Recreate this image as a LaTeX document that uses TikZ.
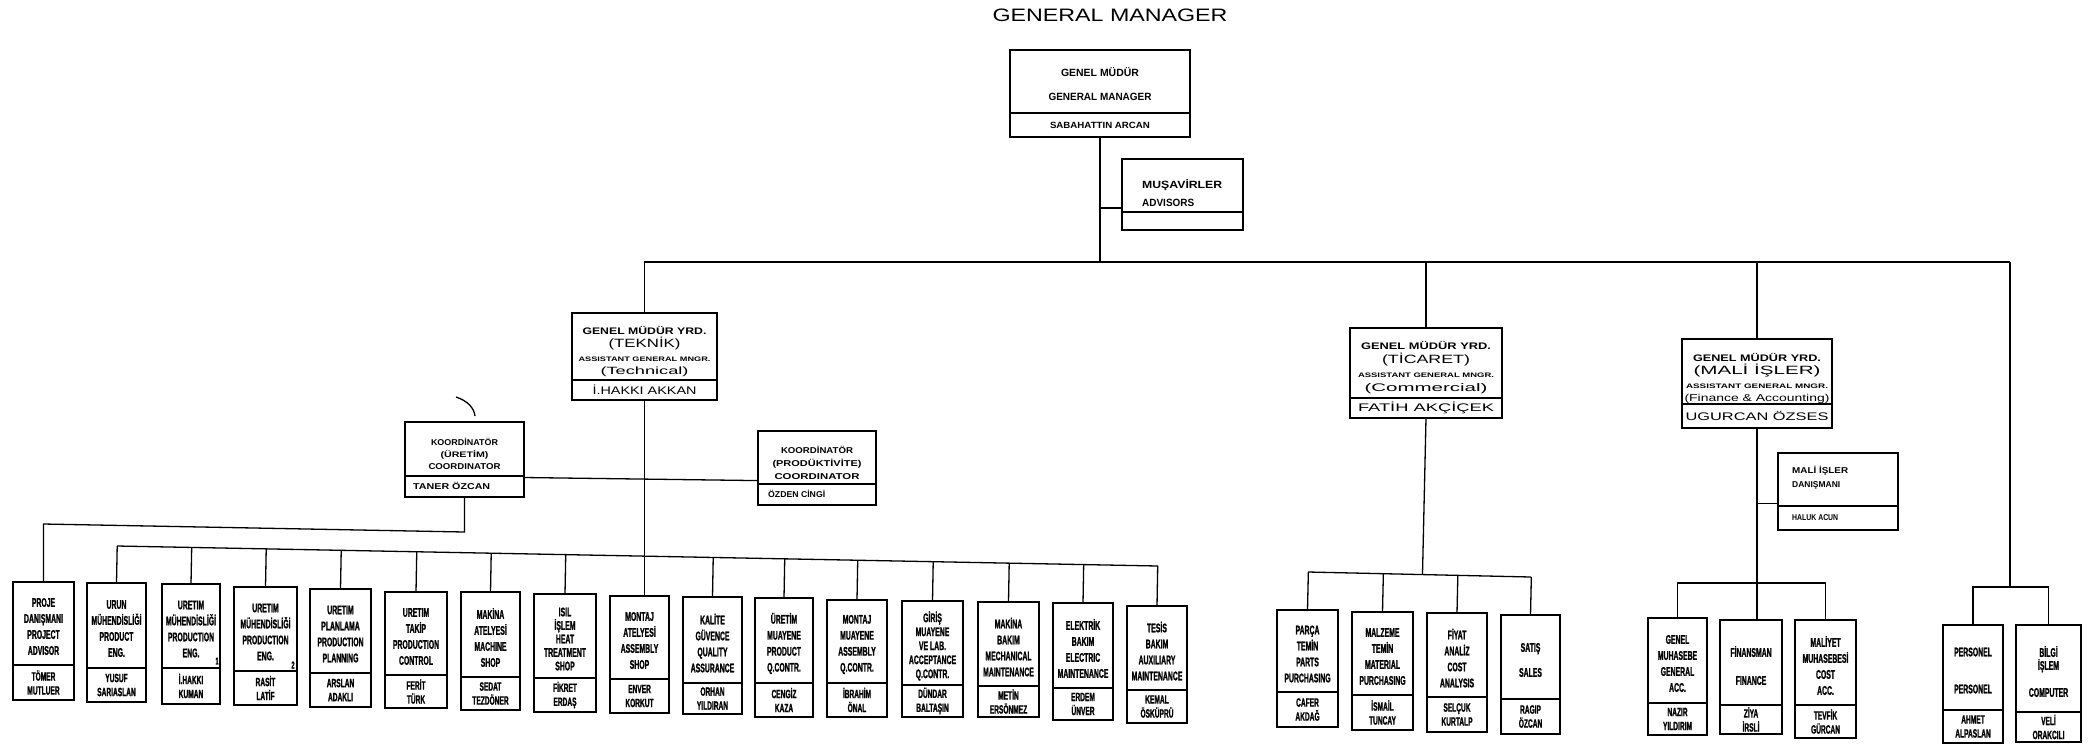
\documentclass[tikz,border=0pt]{standalone}
\usepackage{graphicx}
\usepackage{fontspec}
\setmainfont{Liberation Sans}
\newfontfamily\fcond[FakeStretch=0.55,FakeBold=1.2]{Liberation Sans Bold}
\usetikzlibrary{calc}
\newcommand\fitb[3][9]{{\rmfamily\fontsize{#1}{#1}\selectfont\bfseries\resizebox{#2pt}{\height}{#3}}}
\newcommand\fitr[3][10]{{\rmfamily\fontsize{#1}{#1}\selectfont\mdseries\resizebox{#2pt}{\height}{#3}}}
% #1 title options, #2 name, #3 x1, #4 top, #5 x2, #6 divider, #7 bottom, #8 title, #9 person
\newcommand\orgbx[9][]{%
  \pgfmathsetmacro\bxw{#5-#3}%
  \pgfmathsetmacro\bxh{#7-#4}%
  \node[frame, minimum width=\bxw pt, minimum height=\bxh pt, anchor=north west] (#2) at (#3,#4) {};
  \draw[divl] (#3,#6) -- (#5,#6);
  \node[ttl,#1] (#2t) at ({(#3+#5)/2},{(#4+#6)/2}) {#8};
  \node[psn] (#2n) at ({(#3+#5)/2},{(#6+#7)/2}) {#9};
}
\begin{document}
\begin{tikzpicture}[x=1pt,y=-1pt,
  frame/.style={draw, line width=1.7pt, inner sep=0pt, outer sep=0pt},
  divl/.style={line width=1.4pt},
  conn/.style={line width=1.3pt},
  ttl/.style={align=center, inner sep=0pt, yshift=-3pt, font=\fcond\fontsize{12.5}{16}\selectfont},
  psn/.style={align=center, inner sep=0pt, font=\fcond\fontsize{12}{14}\selectfont},
  plain/.style={inner sep=0pt}]
\useasboundingbox (0,0) rectangle (2095,748);
\fill[white] (0,0) rectangle (2095,748);

\node[plain] (title) at (1110,15) {\fitr[18]{235}{GENERAL MANAGER}};

% top level
\orgbx[font=\fontsize{10}{24}\selectfont, yshift=0pt]{gm}{1010}{50}{1190}{113}{137}{\fitb[10.5]{78}{GENEL MÜDÜR}\\\fitb[10.5]{103}{GENERAL MANAGER}}{\fitb[9]{100}{SABAHATTIN ARCAN}}
\orgbx{mus}{1122}{159}{1243}{212}{230}{}{}
\node[plain, align=left, anchor=west, font=\fontsize{10}{18}\selectfont] (must) at ($(mus.north west)+(20,34)$) {\fitb[10.5]{80}{MUŞAVİRLER}\\\fitb[10.5]{52}{ADVISORS}};

% assistant general managers
\orgbx[font=\fontsize{10}{13.3}\selectfont, yshift=-2pt]{tek}{572}{313}{717}{380}{400}{\fitb[9.5]{124}{GENEL MÜDÜR YRD.}\\\fitr[12]{72}{(TEKNİK)}\\\fitb[6.5]{132}{ASSISTANT GENERAL MNGR.}\\\fitr[10.5]{88}{(Technical)}}{\fitr[11]{104}{İ.HAKKI AKKAN}}
\orgbx[font=\fontsize{10}{14}\selectfont, yshift=-2pt]{tic}{1350}{328}{1502}{398}{418}{\fitb[9.5]{130}{GENEL MÜDÜR YRD.}\\\fitr[12]{88}{(TİCARET)}\\\fitb[6.5]{136}{ASSISTANT GENERAL MNGR.}\\\fitr[11]{123}{(Commercial)}}{\fitr[11]{136}{FATİH AKÇİÇEK}}
\orgbx[font=\fontsize{10}{13.5}\selectfont, yshift=-4pt]{mal}{1682}{339}{1832}{404}{428}{\fitb[9.5]{128}{GENEL MÜDÜR YRD.}\\\fitr[12]{127}{(MALİ İŞLER)}\\\fitb[6.5]{142}{ASSISTANT GENERAL MNGR.}\\\fitr[10]{145}{(Finance \& Accounting)}}{\fitr[11]{143}{UGURCAN ÖZSES}}

% coordinators
\orgbx[font=\fontsize{9}{12}\selectfont, yshift=-2pt]{co1}{405}{422}{524}{476}{497}{\fitb[8.5]{67}{KOORDİNATÖR}\\\fitb[8]{48}{(ÜRETİM)}\\\fitb[8.5]{72}{COORDINATOR}}{}
\node[psn, anchor=west] (co1p) at ($(co1.south west)+(8,-11)$) {\fitb[8.5]{77}{TANER ÖZCAN}};
\orgbx[font=\fontsize{9}{13}\selectfont, yshift=-2pt]{co2}{758}{431}{876}{484}{505}{\fitb[8.5]{72}{KOORDİNATÖR}\\\fitb[8.5]{89}{(PRODÜKTİVİTE)}\\\fitb[8.5]{85}{COORDINATOR}}{}
\node[psn, anchor=west] (co2p) at ($(co2.south west)+(10,-11)$) {\fitb[8.5]{57}{ÖZDEN CİNGİ}};

% finance advisor
\orgbx{mdn}{1778}{453}{1898}{506}{530}{}{}
\node[plain, align=left, anchor=west, font=\fontsize{9}{14}\selectfont] (mdnt) at ($(mdn.north west)+(14,25)$) {\fitb[8.5]{56}{MALİ İŞLER}\\\fitb[8.5]{48}{DANIŞMANI}};
\node[psn, anchor=west] (mdnp) at ($(mdn.south west)+(14,-12)$) {\fitb[8.5]{46}{HALUK ACUN}};

% technical departments
\orgbx{b1}{13}{582}{74}{665}{700}{PROJE\\DANIŞMANI\\PROJECT\\ADVISOR}{TÖMER\\MUTLUER}
\orgbx{b2}{87}{583}{146}{668}{702}{URUN\\MÜHENDİSLİĞİ\\PRODUCT\\ENG.}{YUSUF\\SARIASLAN}
\orgbx{b3}{162}{584}{220}{668}{704}{URETIM\\MÜHENDİSLİĞİ\\PRODUCTION\\ENG.}{İ.HAKKI\\KUMAN}
\orgbx{b4}{234}{587}{297}{671}{705}{URETIM\\MÜHENDİSLİĞİ\\PRODUCTION\\ENG.}{RASİT\\LATİF}
\orgbx{b5}{310}{589}{371}{673}{707}{URETIM\\PLANLAMA\\PRODUCTION\\PLANNING}{ARSLAN\\ADAKLI}
\orgbx{b6}{385}{592}{447}{675}{708}{URETIM\\TAKİP\\PRODUCTION\\CONTROL}{FERİT\\TÜRK}
\orgbx{b7}{461}{592}{520}{677}{710}{MAKİNA\\ATELYESİ\\MACHINE\\SHOP}{SEDAT\\TEZDÖNER}
\orgbx[font=\fcond\fontsize{12.5}{13.5}\selectfont]{b8}{534}{594}{596}{678}{712}{ISIL\\İŞLEM\\HEAT\\TREATMENT\\SHOP}{FİKRET\\ERDAŞ}
\orgbx{b9}{610}{596}{669}{679}{713}{MONTAJ\\ATELYESİ\\ASSEMBLY\\SHOP}{ENVER\\KORKUT}
\orgbx{b10}{683}{597}{742}{683}{714}{KALİTE\\GÜVENCE\\QUALITY\\ASSURANCE}{ORHAN\\YILDIRAN}
\orgbx{b11}{755}{598}{813}{683}{717}{ÜRETİM\\MUAYENE\\PRODUCT\\Q.CONTR.}{CENGİZ\\KAZA}
\orgbx{b12}{827}{600}{887}{683}{717}{MONTAJ\\MUAYENE\\ASSEMBLY\\Q.CONTR.}{İBRAHİM\\ÖNAL}
\orgbx[font=\fcond\fontsize{12.5}{14}\selectfont]{b13}{902}{601}{963}{685}{717}{GİRİŞ\\MUAYENE\\VE LAB.\\ACCEPTANCE\\Q.CONTR.}{DÜNDAR\\BALTAŞIN}
\orgbx{b14}{978}{602}{1039}{686}{717}{MAKİNA\\BAKIM\\MECHANICAL\\MAINTENANCE}{METİN\\ERSÖNMEZ}
\orgbx{b15}{1053}{603}{1113}{688}{720}{ELEKTRİK\\BAKIM\\ELECTRIC\\MAINTENANCE}{ERDEM\\ÜNVER}
\orgbx{b16}{1127}{606}{1187}{690}{723}{TESİS\\BAKIM\\AUXILIARY\\MAINTENANCE}{KEMAL\\ÖSKÜPRÜ}
\node[plain, font=\fcond\fontsize{10}{10}\selectfont] (m1) at (217,661) {1};
\node[plain, font=\fcond\fontsize{10}{10}\selectfont] (m2) at (293,665) {2};

% commercial departments
\orgbx{p1}{1277}{610}{1338}{692}{727}{PARÇA\\TEMİN\\PARTS\\PURCHASING}{CAFER\\AKDAĞ}
\orgbx{p2}{1352}{612}{1413}{695}{730}{MALZEME\\TEMİN\\MATERIAL\\PURCHASING}{İSMAİL\\TUNCAY}
\orgbx{p3}{1427}{613}{1487}{697}{732}{FİYAT\\ANALİZ\\COST\\ANALYSIS}{SELÇUK\\KURTALP}
\orgbx{p4}{1501}{615}{1560}{699}{734}{SATIŞ\\[9pt]SALES}{RAGIP\\ÖZCAN}

% finance departments
\orgbx{f1}{1648}{618}{1707}{703}{735}{GENEL\\MUHASEBE\\GENERAL\\ACC.}{NAZIR\\YILDIRIM}
\orgbx{f2}{1720}{620}{1782}{705}{734}{FİNANSMAN\\[12pt]FINANCE}{ZİYA\\İRSLİ}
\orgbx{f3}{1795}{620}{1856}{705}{738}{MALİYET\\MUHASEBESİ\\COST\\ACC.}{TEVFİK\\GÜRCAN}

% personnel / computer
\orgbx{r1}{1943}{625}{2003}{710}{743}{PERSONEL\\[21pt]PERSONEL}{AHMET\\ALPASLAN}
\orgbx{r2}{2016}{625}{2081}{712}{742}{BİLGİ\\[-3pt]İŞLEM\\[11pt]COMPUTER}{VELİ\\ORAKCILI}

% ---------------- connectors ----------------
\coordinate (busR) at (2010,262);
\draw[conn] (tek.north) |- (busR);
\draw[conn] (gm.south) -- (gm.south |- busR);
\draw[conn] (tic.north) -- (tic.north |- busR);
\draw[conn] (mal.north) -- (mal.north |- busR);
\coordinate (musc) at ($(mus.north west)!0.69!(mus.south west)$);
\draw[conn] (musc) -- (musc -| gm.south);

% technical
\coordinate (c1r) at ($(co1.north east)!0.74!(co1.south east)$);
\coordinate (c2l) at ($(co2.north west)!0.67!(co2.south west)$);
\draw[conn] (c1r) -- (c2l);
\draw[conn] (tek.south) -- (tek.south |- b9.north);
\coordinate (ubr) at (464,532);
\coordinate (ubl) at (43,524);
\draw[conn] (co1.south) -- (co1.south |- ubr) -- (ubl -| b1.north) -- (b1.north);
\coordinate (lbl) at (117,546);
\coordinate (lbr) at (1158,566);
\draw[conn] (lbl) -- (lbr);
\foreach \b in {b2,b3,b4,b5,b6,b7,b8,b10,b11,b12,b13,b14,b15,b16}
  \draw[conn] (\b.north) -- ($(lbl)!(\b.north)!(lbr)$);
\draw[conn] (456,397) .. controls (468,401) and (474,408) .. (475,416);

% commercial
\coordinate (tbl) at (1308,572);
\coordinate (tbr) at (1531,577);
\draw[conn] (tbl) -- (tbr);
\draw[conn] (tic.south) -- ($(tbl)!(tic.south)!(tbr)$);
\foreach \b in {p1,p2,p3,p4}
  \draw[conn] (\b.north) -- ($(tbl)!(\b.north)!(tbr)$);

% finance
\draw[conn] (mal.south) -- (mal.south |- f2.north);
\coordinate (mdc) at ($(mdn.north west)!0.66!(mdn.south west)$);
\draw[conn] (mdc) -- (mdc -| mal.south);
\coordinate (mb) at (1700,583);
\draw[conn] (f1.north) -- (f1.north |- mb) -- (f3.north |- mb) -- (f3.north);

% personnel / computer
\coordinate (rb) at (2010,587);
\draw[conn] (busR) -- (rb);
\draw[conn] (r1.north) -- (r1.north |- rb) -- (r2.north |- rb) -- (r2.north);
\end{tikzpicture}
\end{document}
